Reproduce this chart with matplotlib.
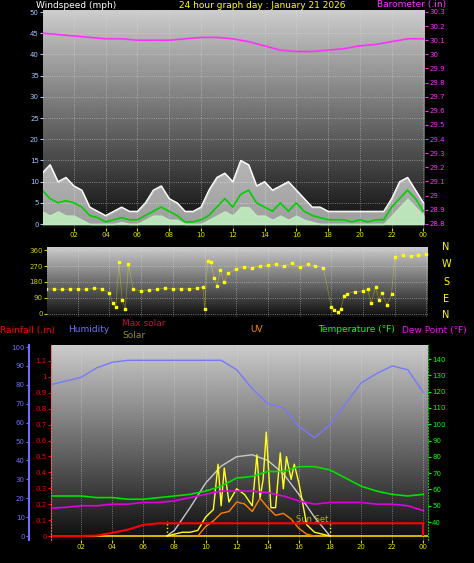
import numpy as np
import matplotlib.pyplot as plt

W, H = 474, 563
hh = np.arange(0, 24.5, 0.5)   # half-hourly
hr = np.arange(0, 25, 1)       # hourly

gust = [12, 14, 10, 11, 9, 8, 4, 3, 2, 3, 4, 3, 3, 5, 8, 9, 6, 5, 3, 3, 4, 8, 11, 12, 10,
        15, 14, 9, 10, 8, 9, 10, 8, 6, 4, 4, 3, 3, 3, 3, 3, 3, 3, 3, 6, 10, 11, 8, 5]
avg = [8, 6, 5, 5.5, 5, 4, 2, 1.5, 0.5, 1, 1.5, 1, 1, 2, 3, 4, 3, 2, 0.5, 0.5, 1, 2, 4, 6, 4,
       7, 8, 5, 4, 3, 5, 3, 5, 3, 2, 1.5, 1, 1, 1, 0.5, 1, 0.5, 1, 1, 4, 6, 8, 6, 3]
lull = [3, 2, 3, 2, 2, 1, 0, 0, 0, 0, 0.5, 0, 0, 1, 2, 2, 1, 1, 0, 0, 0, 1, 2, 3, 2,
        4, 4, 2, 2, 1, 2, 1, 2, 1, 0.5, 0, 0, 0, 0, 0, 0, 0, 0, 0, 2, 4, 6, 4, 2]
baro = [30.15, 30.14, 30.13, 30.12, 30.11, 30.11, 30.10, 30.10, 30.10, 30.11, 30.12, 30.12, 30.11,
        30.09, 30.06, 30.03, 30.02, 30.02, 30.03, 30.04, 30.06, 30.07, 30.09, 30.11, 30.11]

dir_t = [0, 0.5, 1, 1.5, 2, 2.5, 3, 3.5, 4, 4.2, 4.4, 4.6, 4.8, 5, 5.2, 5.5, 6, 6.5, 7, 7.5, 8, 8.5,
         9, 9.5, 9.9, 10, 10.2, 10.4, 10.6, 10.8, 11, 11.2, 11.5, 12, 12.5, 13, 13.5, 14, 14.5, 15,
         15.5, 16, 16.5, 17, 17.5, 18, 18.2, 18.4, 18.6, 18.8, 19, 19.5, 20, 20.3, 20.5, 20.8, 21,
         21.2, 21.5, 21.8, 22, 22.5, 23, 23.5, 24]
dir_v = [140, 140, 138, 140, 142, 138, 145, 140, 120, 60, 40, 290, 80, 30, 280, 140, 130, 135, 140,
         145, 140, 142, 140, 145, 150, 30, 300, 290, 200, 160, 250, 180, 230, 255, 265, 260, 270, 275,
         280, 270, 285, 265, 280, 270, 260, 40, 20, 10, 30, 100, 115, 125, 130, 140, 60, 150, 80,
         120, 50, 110, 320, 330, 325, 330, 335]

hum = [80, 82, 84, 89, 92, 93, 93, 93, 93, 93, 93, 93, 88, 78, 70, 68, 58, 52, 59, 70, 81, 86, 90, 88, 76]
temp = [56, 56, 56, 55, 55, 54, 54, 55, 56, 57, 59, 62, 67, 68, 71, 71, 74, 74, 72, 67, 62, 59, 57, 56, 57]
dew = [48.5, 49, 50, 50, 51, 51, 52, 52, 53, 55, 57, 59, 59, 59, 58, 56, 53, 51, 52, 52, 52, 51, 51, 50, 47]
rain = [0, 0, 0, 0.003, 0.02, 0.04, 0.07, 0.08, 0.08, 0.08, 0.08, 0.08, 0.08, 0.08, 0.08, 0.08,
        0.08, 0.08, 0.08, 0.08, 0.08, 0.08, 0.08, 0.08, 0.08]
sol_t = [7.5, 8, 8.5, 9, 9.5, 10, 10.5, 10.8, 11, 11.2, 11.5, 12, 12.5, 13, 13.3, 13.5, 13.7, 13.9,
         14.2, 14.5, 14.8, 15, 15.2, 15.5, 15.7, 16, 16.5, 17, 17.5, 18]
solar = [0, 1, 2, 2, 3, 10, 14, 38, 16, 36, 18, 25, 22, 16, 43, 20, 30, 55, 15, 15, 44, 25, 42, 30,
         38, 28, 6, 2, 1, 0]
uv_t = [9.5, 10, 10.5, 11, 11.5, 12, 12.5, 13, 13.5, 14, 14.5, 15, 15.5, 16, 16.5, 17]
uv = [0, 5, 8, 12, 13, 18, 17, 13, 20, 15, 11, 12, 9, 4, 1, 0]
max_t = [7.5, 8, 9, 10, 11, 12, 13, 14, 15, 16, 17, 18]
maxsol = [0, 3, 15, 28, 37, 42, 43, 40, 33, 22, 10, 0]

xt = [2, 4, 6, 8, 10, 12, 14, 16, 18, 20, 22, 24]
xtl = ['02', '04', '06', '08', '10', '12', '14', '16', '18', '20', '22', '00']

fig = plt.figure(figsize=(W / 100, H / 100), dpi=100, facecolor='black')
grad = np.linspace(0.8, 0.05, 256).reshape(-1, 1)


def box(l, t, w, h):
    return fig.add_axes([l / W, 1 - (t + h) / H, w / W, h / H])


def style(ax, lo, hi):
    ax.imshow(grad, aspect='auto', cmap='gray', vmin=0, vmax=1,
              extent=[*ax.get_xlim(), lo, hi], origin='upper', zorder=0)
    ax.set_ylim(lo, hi)
    for s in ax.spines.values():
        s.set_visible(False)
    ax.grid(True, color='#e0e0e0', ls=':', lw=0.6, alpha=0.6)
    ax.tick_params(labelsize=5, length=2, pad=1)


# top: wind + barometer
ax1 = box(43, 10, 382, 218)
ax1.set_xlim(0.06, 24.1)
style(ax1, -0.94, 50.5)
ax1.fill_between(hh, 0, gust, color='white', alpha=0.6, zorder=2)
ax1.plot(hh, gust, color='white', lw=0.9, zorder=3)
ax1.fill_between(hh, 0, lull, color='#c0f0c0', alpha=0.85, zorder=3)
ax1.plot(hh, avg, color='#00d000', lw=1.2, zorder=4)
ax1.set_yticks(range(0, 51, 5))
ax1.set_xticks(xt, xtl)
ax1.tick_params(axis='y', colors='#a0c8ff')
ax1.tick_params(axis='x', colors='#e0e000')
b1 = ax1.twinx()
b1.set_ylim(28.77, 30.314)
b1.plot(hr, baro, color='#ff30ff', lw=1.2)
b1.set_yticks(np.round(np.arange(28.8, 30.31, 0.1), 1))
b1.set_yticklabels([f'{v:g}' for v in np.round(np.arange(28.8, 30.31, 0.1), 1)])
b1.tick_params(colors='#ff30ff', labelsize=5, length=2, pad=1)
for s in b1.spines.values():
    s.set_visible(False)
fig.text(36 / W, 1 - 5 / H, 'Windspeed (mph)', color='white', fontsize=6.5, va='center')
fig.text(262 / W, 1 - 5 / H, '24 hour graph day : January 21 2026', color='yellow', fontsize=6.5,
         va='center', ha='center')
fig.text(377 / W, 1 - 5 / H, 'Barometer (.in)', color='#ff30ff', fontsize=6.5, va='center')

# middle: wind direction
ax2 = box(47, 247, 381, 70)
ax2.set_xlim(0.06, 24.1)
style(ax2, -17, 377)
ax2.scatter(dir_t, dir_v, s=3, color='yellow', marker='s', zorder=3)
ax2.plot(dir_t, dir_v, color='yellow', lw=0.5, alpha=0.35, zorder=2)
ax2.set_yticks([0, 90, 180, 270, 360])
ax2.set_xticks(xt, [])
ax2.tick_params(axis='y', colors='#d0d000')
ax2.tick_params(axis='x', length=0)
for y, c in zip([247, 264, 282, 299, 315], 'NWSEN'):
    fig.text(446 / W, 1 - y / H, c, color='yellow', fontsize=7, va='center', ha='center')

# legend row
for x, y, s, c in [(0, 330, 'Rainfall (.in)', 'red'), (68, 330, 'Humidity', '#7070ff'),
                   (122, 324, 'Max solar', '#c0103c'), (122, 336, 'Solar', '#909000'),
                   (250, 330, 'UV', '#ff8000'), (318, 330, 'Temperature (°F)', '#00ff00'),
                   (402, 330, 'Dew Point (°F)', '#ff00ff')]:
    fig.text(x / W, 1 - y / H, s, color=c, fontsize=6.5, va='center')

# bottom
ax3 = box(51, 345, 377, 195)
ax3.set_xlim(0.06, 24.3)
style(ax3, -2.1, 101.1)
ax3.plot(hr, hum, color='#7878ff', lw=1)
ax3.plot(max_t, maxsol, color='#c8c8c8', lw=1)
ax3.plot(sol_t, solar, color='#ffff20', lw=1, zorder=4)
ax3.plot(uv_t, uv, color='#ff8000', lw=1, zorder=4)
ax3.axhline(0, color='#ffd000', lw=1.2)
ax3.vlines([7.5, 18], 0, 8, colors='yellow', ls=':', lw=1)
ax3.text(17.9, 9, 'Sun Set', color='#b0b020', fontsize=6, ha='right', va='center')
ax3.set_xticks(xt, xtl)
ax3.set_yticks([])
ax3.tick_params(axis='x', colors='#e0e000')

r3 = ax3.twinx()
r3.set_ylim(-0.025, 1.2)
r3.plot(hr, rain, color='red', lw=1.5)
r3.vlines(24, 0, 0.08, colors='red', lw=1.5)
r3.yaxis.tick_left()
r3.set_yticks(np.round(np.arange(0, 1.11, 0.1), 1))
r3.set_yticklabels([f'{v:g}' for v in np.round(np.arange(0, 1.11, 0.1), 1)])
r3.tick_params(colors='red', labelsize=5, length=2, pad=1)
for k, s in r3.spines.items():
    s.set_visible(k == 'left')
r3.spines['left'].set_color('#ff6060')
r3.spines['left'].set_linestyle(':')

t3 = ax3.twinx()
t3.set_ylim(29.0, 148.6)
t3.plot(hr, temp, color='#00e000', lw=1.2)
t3.plot(hr, dew, color='#e000e0', lw=1.2)
t3.set_yticks(range(40, 141, 10))
t3.tick_params(colors='#00ff00', labelsize=5, length=2, pad=1)
for k, s in t3.spines.items():
    s.set_visible(k == 'right')
t3.spines['right'].set_color('#00c000')
t3.spines['right'].set_linestyle(':')

hax = box(29, 345, 1, 195)
hax.set_facecolor('none')
hax.set_ylim(-2.1, 101.1)
hax.set_xticks([])
hax.set_yticks(range(0, 101, 10))
hax.tick_params(colors='#7070ff', labelsize=5, length=2, pad=1)
for k, s in hax.spines.items():
    s.set_visible(k == 'left')
hax.spines['left'].set_color('#7070ff')
hax.spines['left'].set_linewidth(1.5)

fig.savefig('out.png', dpi=100, facecolor='black')
